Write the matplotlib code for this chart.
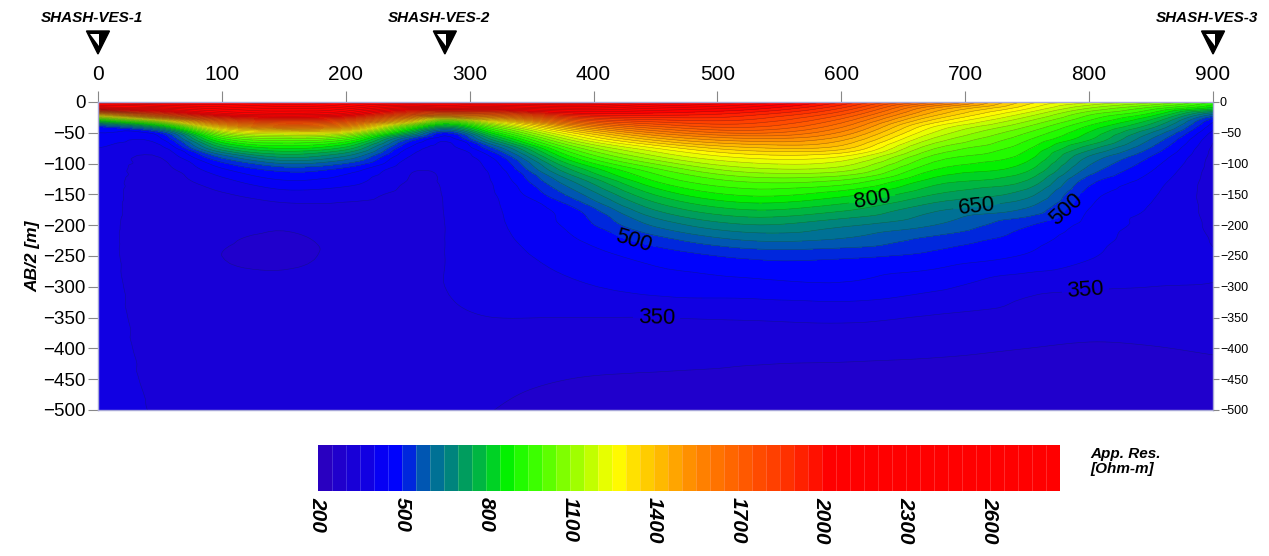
import numpy as np
import matplotlib
matplotlib.use('Agg')
import matplotlib.pyplot as plt
import matplotlib.tri as mtri
import matplotlib.transforms as mtransforms
from matplotlib.colors import LinearSegmentedColormap
from matplotlib.patches import Polygon

plt.rcParams['font.family'] = ['Liberation Sans', 'DejaVu Sans']

# sounding stations on the profile
ves_names = ['SHASH-VES-1', 'SHASH-VES-2', 'SHASH-VES-3']
ves_pos = [0, 280, 900]

# read-off grid: distance along profile [m] and AB/2 [m]
dist = [0, 50, 100, 150, 200, 250, 280, 320, 380, 450, 525, 600, 675, 750, 800, 850, 900]
ab2 = [0, 10, 20, 30, 40, 50, 60, 75, 90, 110, 130, 150, 175, 200, 225, 250, 300, 350, 400, 450, 500]

# apparent resistivity [Ohm-m] per column, top -> bottom
rho_000 = [2300, 2060, 1375, 850, 500, 450, 430, 400, 385, 378, 372, 370, 370, 368, 368, 368, 370, 372, 374, 376, 378]
rho_050 = [2350, 2140, 1786, 1200, 770, 500, 440, 380, 350, 335, 330, 328, 325, 322, 320, 320, 325, 330, 335, 340, 345]
rho_100 = [2350, 2220, 2060, 1714, 1389, 1125, 933, 738, 558, 440, 380, 345, 325, 312, 303, 300, 308, 318, 328, 335, 340]
rho_150 = [2400, 2260, 2120, 1861, 1583, 1250, 1042, 856, 700, 518, 440, 380, 330, 305, 295, 295, 308, 320, 328, 335, 340]
rho_200 = [2350, 2220, 2060, 1778, 1500, 1200, 973, 780, 632, 480, 420, 370, 335, 318, 310, 308, 318, 328, 334, 338, 340]
rho_250 = [2300, 2080, 1770, 1375, 1000, 757, 556, 450, 400, 360, 348, 340, 337, 335, 335, 335, 340, 345, 345, 340, 335]
rho_280 = [2300, 2100, 1643, 1050, 725, 500, 420, 380, 365, 358, 354, 352, 351, 350, 350, 350, 350, 345, 338, 328, 318]
rho_320 = [2300, 2080, 1700, 1312, 1050, 877, 732, 554, 460, 420, 405, 398, 393, 390, 385, 380, 370, 350, 330, 312, 300]
rho_380 = [2350, 2150, 1950, 1700, 1464, 1286, 1163, 1000, 880, 740, 632, 561, 480, 460, 440, 420, 390, 350, 320, 300, 285]
rho_450 = [2250, 2100, 1972, 1833, 1694, 1556, 1429, 1250, 1133, 986, 895, 805, 703, 609, 524, 470, 420, 350, 320, 295, 280]
rho_525 = [2150, 2030, 1920, 1840, 1760, 1660, 1540, 1388, 1259, 1128, 1000, 911, 800, 696, 600, 511, 430, 355, 315, 290, 270]
rho_600 = [1950, 1850, 1760, 1680, 1610, 1540, 1470, 1370, 1240, 1120, 980, 870, 760, 660, 590, 510, 440, 360, 315, 285, 265]
rho_675 = [1650, 1500, 1420, 1335, 1250, 1195, 1140, 1055, 980, 900, 820, 750, 660, 600, 530, 485, 410, 345, 310, 280, 260]
rho_750 = [1330, 1260, 1180, 1110, 1050, 1000, 960, 910, 870, 810, 740, 670, 590, 505, 470, 445, 365, 330, 300, 275, 258]
rho_800 = [1210, 1100, 1010, 950, 890, 845, 810, 720, 640, 580, 515, 475, 448, 432, 418, 405, 355, 320, 295, 272, 255]
rho_850 = [1120, 980, 880, 790, 720, 650, 600, 545, 495, 455, 425, 408, 395, 385, 378, 370, 350, 322, 298, 275, 260]
rho_900 = [950, 830, 600, 470, 420, 385, 360, 340, 332, 328, 326, 328, 335, 342, 348, 352, 348, 328, 305, 282, 265]

cbar_ticks = [200, 500, 800, 1100, 1400, 1700, 2000, 2300, 2600]
label_levels = [350, 500, 650, 800]
label_spots = [(433, -219), (451, -343), (625, -159), (709, -167), (783, -178), (797, -305)]

# colour scale (Surfer-like rainbow)
cnodes = [(200, '#2c00bc'), (350, '#1400dc'), (450, '#0000ff'), (500, '#0008f8'),
          (540, '#0040c8'), (590, '#0060a8'), (650, '#007c88'), (700, '#009468'),
          (760, '#00b048'), (820, '#00d028'), (870, '#00f000'), (950, '#30ff00'),
          (1100, '#90ff00'), (1200, '#d0ff00'), (1260, '#ffff00'), (1340, '#ffd800'),
          (1450, '#ffb000'), (1570, '#ff8000'), (1700, '#ff6000'), (1820, '#ff4000'),
          (1930, '#ff2000'), (2030, '#ff0000'), (2850, '#ff0000')]
vmin, vmax = 200, 2850
cmap = LinearSegmentedColormap.from_list(
    'res', [((v - vmin) / (vmax - vmin), c) for v, c in cnodes])

fig = plt.figure(figsize=(12.69, 5.56), dpi=100)
ax = fig.add_axes([0.0772, 0.2626, 0.8787, 0.5540])

cols = [rho_000, rho_050, rho_100, rho_150, rho_200, rho_250, rho_280, rho_320, rho_380,
        rho_450, rho_525, rho_600, rho_675, rho_750, rho_800, rho_850, rho_900]
Z = np.column_stack(cols).astype(float)
X, Y = np.meshgrid(dist, ab2)

# explicit triangles on the read grid
nr, nc = Z.shape
tris = []
for i in range(nr - 1):
    for j in range(nc - 1):
        a = i * nc + j
        b = a + 1
        c = a + nc
        d = c + 1
        tris.append([a, b, d])
        tris.append([a, d, c])
tri = mtri.Triangulation(X.ravel(), -Y.ravel(), np.array(tris))
interp = mtri.CubicTriInterpolator(tri, Z.ravel(), kind='geom')
refiner = mtri.UniformTriRefiner(tri)
tri_f, z_f = refiner.refine_field(Z.ravel(), triinterpolator=interp, subdiv=3)
z_f = np.clip(z_f, vmin + 1, vmax - 1)

levels = np.arange(vmin, vmax + 1, 50)
cf = ax.tricontourf(tri_f, z_f, levels=levels, cmap=cmap, vmin=vmin, vmax=vmax)
line_levels = [l for l in levels[1:-1] if l not in label_levels]
ax.tricontour(tri_f, z_f, levels=line_levels, colors='#202020', linewidths=0.4, alpha=0.4)
cs = ax.tricontour(tri_f, z_f, levels=label_levels, colors='#202020', linewidths=0.4, alpha=0.4)
labels = ax.clabel(cs, inline=True, fmt='%d', fontsize=16, colors='k', manual=label_spots)
for t in labels:
    t.set_alpha(1)
    t.set_color('black')

ax.set_xlim(0, 900)
ax.set_ylim(-500, 0)
ax.xaxis.tick_top()
ax.set_xticks(range(0, 901, 100))
ax.set_yticks(range(-500, 1, 50))
ax.tick_params(axis='x', labelsize=15, length=8, color='#888888', pad=5)
ax.tick_params(axis='y', labelsize=13.5, length=7, color='#888888', pad=2)
ax.set_ylabel('AB/2 [m]', fontsize=12.5, fontweight='bold', fontstyle='italic', labelpad=2)
for sp in ax.spines.values():
    sp.set_color('#a8a8d8')
    sp.set_linewidth(1)

ax2 = ax.twinx()
ax2.set_ylim(-500, 0)
ax2.set_yticks(range(-500, 1, 50))
ax2.tick_params(axis='y', labelsize=9, length=4, color='#888888', pad=1)
for sp in ax2.spines.values():
    sp.set_visible(False)

# colour bar
cax = fig.add_axes([0.2506, 0.1169, 0.5847, 0.0827])
cb = fig.colorbar(cf, cax=cax, orientation='horizontal', ticks=cbar_ticks, drawedges=True)
cb.outline.set_visible(False)
cb.dividers.set_color('white')
cb.dividers.set_alpha(0.2)
cb.dividers.set_linewidth(0.6)
cax.tick_params(axis='x', length=0, pad=4)
cax.set_xticklabels([str(t) for t in cbar_ticks], rotation=-90, fontsize=15,
                    fontweight='bold', fontstyle='italic')
fig.text(0.859, 0.196, 'App. Res.\n[Ohm-m]', fontsize=11, fontweight='bold',
         fontstyle='italic', ha='left', va='top', linespacing=1.05)

# station markers above the section
fig.canvas.draw()
H = fig.bbox.height
for name, xp in zip(ves_names, ves_pos):
    px = ax.transData.transform((xp, 0))[0]
    top = H - 31
    outer = Polygon([(px - 11.5, top), (px + 11.5, top), (px, top - 23)], closed=True,
                    facecolor='black', edgecolor='black', transform=mtransforms.IdentityTransform())
    inner = Polygon([(px - 7.5, top - 3), (px + 1.5, top - 3), (px + 1.5, top - 15)], closed=True,
                    facecolor='white', edgecolor='none', transform=mtransforms.IdentityTransform())
    fig.add_artist(outer)
    fig.add_artist(inner)
    fig.text((px - 6) / fig.bbox.width, 1 - 18 / 556, name, fontsize=11, fontweight='bold',
             fontstyle='italic', ha='center', va='center')

fig.savefig('out.png', dpi=100)
